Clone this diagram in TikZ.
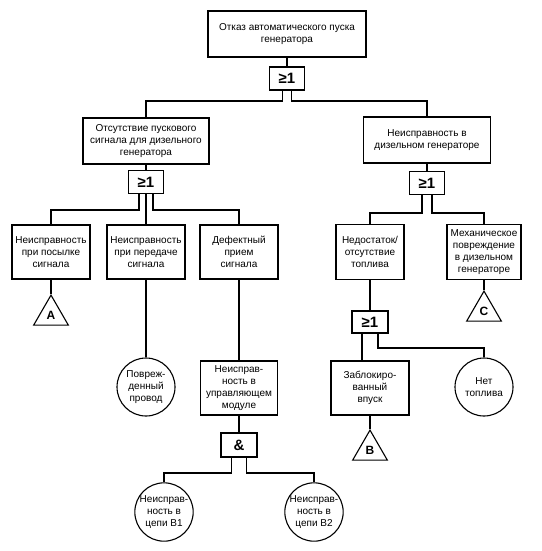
\documentclass[tikz,border=0pt]{standalone}
\usepackage{fontspec}
\setmainfont{Liberation Sans}
\usetikzlibrary{shapes.geometric}
\usetikzlibrary{positioning}

\begin{document}
\begin{tikzpicture}[
        x=1pt, y=-1pt,
        event/.style={rectangle, draw=black, line width=1.1pt, inner sep=1pt, align=center, font=\fontsize{10}{11.8}\selectfont},
        gate/.style={rectangle, draw=black, line width=1.6pt, minimum width=35pt, minimum height=23pt, inner sep=0pt, font=\fontsize{15}{15}\selectfont\bfseries},
        basic/.style={circle, draw=black, line width=1.1pt, minimum size=58pt, inner sep=0pt, align=center, font=\fontsize{10}{11.8}\selectfont},
        transfer/.style={regular polygon, regular polygon sides=3, draw=black, line width=1.1pt, minimum size=40pt, inner sep=0pt, font=\fontsize{12}{12}\selectfont\bfseries},
        link/.style={draw=black, line width=1.1pt}
      ]
        \useasboundingbox (0,0) rectangle (541,551);

        % top event and first gate
        \node[event, minimum width=158pt, minimum height=46pt] (top) at (287,34)  {Отказ автоматического пуска\\генератора};
        \node[gate]                                            (g0)  at (287,78.5) {≥1};

        \node[event, minimum width=126pt, minimum height=46pt] (signal) at (146,141) {Отсутствие пускового\\сигнала для дизельного\\генератора};
        \node[event, minimum width=127pt, minimum height=46pt] (diesel) at (427,140) {Неисправность в\\дизельном генераторе};

        \node[gate] (gsignal) at (146,182) {≥1};
        \node[gate] (gdiesel) at (427,183) {≥1};

        % third level
        \node[event, minimum width=78pt, minimum height=54pt] (send)  at (51,252)  {Неисправность\\при посылке\\сигнала};
        \node[event, minimum width=78pt, minimum height=54pt] (trans) at (146,252) {Неисправность\\при передаче\\сигнала};
        \node[event, minimum width=78pt, minimum height=54pt] (recv)  at (239,252) {Дефектный\\прием\\сигнала};
        \node[event, minimum width=68pt, minimum height=55pt] (fuel)  at (370,252) {Недостаток/\\отсутствие\\топлива};
        \node[event, minimum width=74pt, minimum height=55pt] (mech)  at (484,252) {Механическое\\повреждение\\в дизельном\\генераторе};

        \node[transfer, anchor=north] (tA) at (51,294)  {A};
        \node[transfer, anchor=north] (tC) at (484,290) {C};

        \node[basic] (wire) at (146,387) {Повреж-\\денный\\провод};
        \node[event, minimum width=77pt, minimum height=54pt] (module) at (239,388) {Неисправ-\\ность в\\управляющем\\модуле};
        \node[gate, minimum width=36pt, minimum height=24pt] (gmodule) at (239,445) {\&};
        \node[basic] (b1) at (164,512) {Неисправ-\\ность в\\цепи В1};
        \node[basic, minimum size=56pt] (b2) at (314,512) {Неисправ-\\ность в\\цепи В2};

        \node[gate, minimum width=36pt, minimum height=22pt] (gfuel) at (370,322) {≥1};
        \node[event, minimum width=78pt, minimum height=54pt] (inlet) at (370,388) {Заблокиро-\\ванный\\впуск};
        \node[basic] (nofuel) at (484,387) {Нет\\топлива};
        \node[transfer, anchor=north] (tB) at (370,429) {B};

        % bus levels
        \coordinate (bus0) at (0,101);
        \coordinate (bus1) at (0,210);
        \coordinate (bus2) at (0,213);
        \coordinate (bus3) at (0,473);
        \coordinate (bus4) at (0,348);

        \draw[link] (top.south) -- (g0.north);
        \draw[link] ([xshift=-4.5pt]g0.south) |- (signal.north |- bus0) -- (signal.north);
        \draw[link] ([xshift=4.5pt]g0.south)  |- (diesel.north |- bus0) -- (diesel.north);

        \draw[link] (signal.south) -- (gsignal.north);
        \draw[link] (diesel.south) -- (gdiesel.north);

        \draw[link] ([xshift=-7pt]gsignal.south) |- (send.north |- bus1) -- (send.north);
        \draw[link] (gsignal.south) -- (trans.north);
        \draw[link] ([xshift=7pt]gsignal.south)  |- (recv.north |- bus1) -- (recv.north);

        \draw[link] ([xshift=-5pt]gdiesel.south) |- (fuel.north |- bus2) -- (fuel.north);
        \draw[link] ([xshift=5pt]gdiesel.south)  |- (mech.north |- bus2) -- (mech.north);

        \draw[link] (send.south)  -- (tA.north);
        \draw[link] (mech.south)  -- (tC.north);
        \draw[link] (trans.south) -- (wire.north);
        \draw[link] (recv.south)  -- (module.north);
        \draw[link] (module.south) -- (gmodule.north);
        \draw[link] ([xshift=-7.5pt]gmodule.south) |- (b1.north |- bus3) -- (b1.north);
        \draw[link] ([xshift=7.5pt]gmodule.south)  |- (b2.north |- bus3) -- (b2.north);

        \draw[link] (fuel.south) -- (gfuel.north);
        \draw[link] ([xshift=-8pt]gfuel.south) -- ([xshift=-8pt]gfuel.south |- inlet.north);
        \draw[link] ([xshift=8pt]gfuel.south)  |- (nofuel.north |- bus4) -- (nofuel.north);
        \draw[link] (inlet.south) -- (tB.north);
      \end{tikzpicture}
\end{document}
